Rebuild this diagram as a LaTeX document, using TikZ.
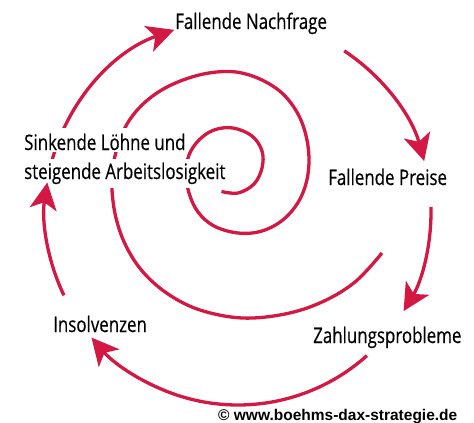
\documentclass[tikz,border=0pt]{standalone}
\usepackage{fontspec}
\setmainfont{Open Sans}[FakeStretch=0.79,FakeBold=0.4]
\newfontfamily\copyfont{Liberation Sans}
\usetikzlibrary{arrows.meta}
\definecolor{spiralred}{RGB}{212,24,68}
\tikzset{
  redline/.style={draw=spiralred, line width=3.3pt},
  redarrow/.style={redline, -{Stealth[length=27pt,width=27pt,inset=7pt]}},
  label/.style={inner sep=0pt, anchor=base west, text=black, font=\fontsize{21.4}{24}\selectfont},
  maskedlabel/.style={label, fill=white, inner xsep=2pt},
}
\begin{document}
\begin{tikzpicture}[x=1pt,y=-1pt]
\useasboundingbox (0,0) rectangle (474,423);
\coordinate (c) at (238,212);
% spiral
\draw[redline] plot[smooth, tension=0.6] coordinates {
 (221.5,191.5) (238,193) (254,184) (262,168) (262,151) (252,136) (233,128) (214,130)
 (199,140) (189,155) (186,173) (189,193) (198,212) (214,226) (238,233) (262,231)
 (284,219) (300,199) (308,174) (308,146) (300,118) (284,95) (262,80) (236,72)
 (209,73) (183,80) (160,91) (141,106) (127,124) (118,145) (113,167) (112,190)
 (116,218) (126,246) (143,272) (168,294) (200,310) (242,318) (285,314)
 (322,302) (355,282) (382,253)};
% outer cycle arrows
\draw[redarrow] (c) ++(-168:193) arc[start angle=-168, end angle=-109.3, radius=193];
\draw[redarrow] (c) ++(-56.6:193) arc[start angle=-56.6, end angle=-15.3, radius=193];
\draw[redarrow] (c) ++(-1.5:193) arc[start angle=-1.5, end angle=30.9, radius=193];
\draw[redarrow] (c) ++(48.1:193) arc[start angle=48.1, end angle=139.4, radius=193];
% labels
\node[label] (nachfrage) at (175,29) {Fallende Nachfrage};
\node[label] (preise) at (328,185) {Fallende Preise};
\node[label] (zahlung) at (313,343) {Zahlungsprobleme};
\node[label] (insolvenz) at (53,332) {Insolvenzen};
\node[maskedlabel, text height=22pt, text depth=2pt] (loehne) at (22,150) {Sinkende Löhne und};
\node[maskedlabel, text height=20pt, text depth=9pt] (arbeit) at (22,179) {steigende Arbeitslosigkeit};
\draw[redarrow] (c) ++(154.4:193) arc[start angle=154.4, end angle=188.8, radius=193];
\node[inner sep=0pt, anchor=base west, font=\copyfont\bfseries\fontsize{15.5}{18}\selectfont] (copy) at (218,420) {© www.boehms-dax-strategie.de};
\end{tikzpicture}
\end{document}
